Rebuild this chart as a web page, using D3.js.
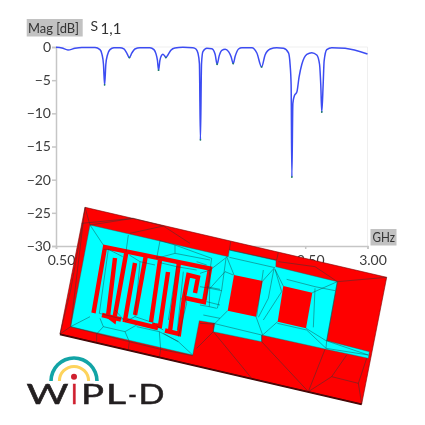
<!DOCTYPE html>
<html><head><meta charset="utf-8">
<script src="https://cdn.jsdelivr.net/npm/d3@7"></script>
<style>html,body{margin:0;padding:0;background:#fff}svg{display:block;filter:blur(0.35px)}text{font-family:Lato,"Open Sans",sans-serif}</style>
</head><body><svg id="c" width="425" height="425"></svg>
<script>
// ---- chart data
const freqGHz = [0.5,0.548,0.596,0.652,0.708,0.813,0.853,0.869,0.881,0.89,0.9,0.913,0.933,0.965,1.013,1.045,1.065,1.089,1.109,1.133,1.174,1.254,1.286,1.302,1.314,1.323,1.334,1.346,1.358,1.374,1.382,1.398,1.422,1.454,1.518,1.599,1.623,1.639,1.651,1.659,1.668,1.679,1.711,1.751,1.777,1.793,1.81,1.831,1.858,1.885,1.906,1.922,1.938,1.965,1.992,2.072,2.112,2.15,2.178,2.219,2.272,2.326,2.366,2.379,2.387,2.393,2.401,2.414,2.433,2.451,2.473,2.513,2.553,2.593,2.615,2.625,2.633,2.644,2.652,2.673,2.713,2.82,3.0];
const s11dB = [-0.05,-0.15,-0.45,-0.2,-0.08,-0.08,-0.4,-1.1,-2.6,-5.7,-2.6,-1.2,-0.4,-0.12,-0.1,-0.3,-0.8,-1.6,-0.9,-0.3,-0.1,-0.1,-0.4,-1.0,-2,-3.5,-2,-1.3,-1.1,-1.4,-1.6,-1.2,-0.5,-0.15,-0.05,-0.1,-0.3,-0.9,-2.5,-14,-2.5,-0.7,-0.2,-0.25,-1.1,-2.6,-1.3,-0.5,-0.35,-0.7,-1.5,-2.5,-1.4,-0.3,-0.1,-0.1,-0.9,-3,-1.2,-0.3,-0.1,-0.2,-0.9,-2.7,-5.7,-19.6,-8.5,-7.3,-6.8,-4.5,-2.6,-1.1,-0.85,-1.2,-2.6,-5.7,-9.8,-5.7,-2.1,-0.4,-0.1,-0.2,-1.05];
const dipGHz = [0.89,1.089,1.323,1.382,1.659,1.793,1.922,2.15,2.393,2.633];
const dipDB = [-5.7,-1.6,-3.5,-1.6,-14,-2.6,-2.5,-3,-19.6,-9.8];
const yTicks = [0,-5,-10,-15,-20,-25,-30];
const xTicks = [0.5,1,1.5,2,2.5,3];

// ---- model outline (picture coordinates)
const boardOutline = [[85,207.3],[386.7,277.3],[361.7,404],[60,334]];
const copperOutline = [[90,225],[228.3,256.7],[229.3,250],[276,260.5],[275.8,266.7],[337.3,281.7],[326.7,340.7],[369.3,351.7],[368.3,358.3],[325,349],[261.7,335],[261.7,341.7],[213.3,331.7],[215,323.3],[199.3,320.7],[192.7,355],[70.7,326.7]];
const slots = [
 [[234,275],[262.7,281],[256,316.7],[227.7,310.7]],
 [[283.3,286],[312.3,292.7],[306,328.3],[277.7,321.7]]
];
const meander = [
 [[93.5,313],[105,247],[210,268.5],[204,302],[184,297.7],[188.3,275],[198,277.3],[195,293]],
 [[115,258],[108,316],[114,320.5],[126.5,251.5]],
 [[102,315],[121,319.5]],
 [[135,263],[125,320],[158,328]],
 [[146,255],[135,315]],
 [[160,260],[151,322]],
 [[168,272],[160,326],[152,325]],
 [[179,262],[170,331]],
 [[165,330.5],[179,334],[184,297.7]]
];
const meshA = [ // crop at (40,190), 3x
 [[135,52],[92,410]],[[128,100],[92,300],[60,432]],[[60,432],[92,410]],[[135,52],[150,105]],
 [[125,100],[280,85],[150,105]],[[270,130],[370,108],[450,160]],[[280,85],[370,108]],
 [[150,105],[190,165]],[[92,410],[150,380]],[[265,135],[258,185]],[[360,152],[350,205]],
 [[180,385],[190,410],[170,432],[170,458]],[[190,410],[255,425],[268,455],[265,478]],
 [[255,425],[290,405]],[[290,410],[358,425],[362,478],[358,502]],[[370,430],[415,455],[458,495]],
 [[92,410],[175,432],[268,455],[362,478],[458,497]],[[358,425],[415,455]],
 [[360,152],[405,165],[515,205]],[[405,165],[405,190],[510,210]],[[350,205],[405,190]],
 [[415,440],[440,340],[432,305]],[[500,335],[540,345]],[[490,375],[540,385]],[[500,290],[540,298]],
 [[190,178],[205,178],[178,370],[250,388],[225,360]],[[205,178],[248,200]],[[268,195],[300,215],[285,380],[345,400]],
 [[300,215],[345,225]],[[360,218],[410,230],[385,390]],[[410,230],[470,240]],[[430,245],[412,420]],
 [[255,395],[285,380]],[[350,408],[370,420]],[[470,215],[500,225]],[[515,205],[498,330]]
];
const meshB = [ // crop at (200,220), 3x
 [[92,65],[88,90],[230,120],[235,97]],[[88,112],[225,143]],[[235,125],[345,140],[412,185],[560,172]],
 [[80,110],[102,165]],[[222,145],[188,183]],[[83,272],[45,310]],[[168,290],[188,345]],[[225,148],[250,198]],
 [[337,218],[412,185]],[[233,305],[188,345]],[[318,325],[378,362]],[[260,178],[345,200],[405,212]],
 [[345,205],[340,322]],[[40,310],[185,345]],[[232,310],[320,330],[378,385],[505,405]],[[378,362],[505,405]],
 [[185,365],[325,515],[375,388]],[[40,335],[155,475]],[[40,335],[-10,385]],[[325,515],[395,470],[440,405]],
 [[395,470],[475,490],[485,552]],[[475,490],[500,415]],[[185,345],[185,365]],[[40,310],[40,335]],
 [[190,150],[170,290]],[[222,145],[205,235],[175,292]],[[225,148],[245,215],[190,300]],
 [[0,200],[30,205],[65,212]],[[0,255],[28,260],[50,265]],[[30,150],[28,260]],[[78,115],[65,210],[52,265]],
 [[75,155],[30,205]],[[100,165],[75,155]],[[0,160],[30,150],[82,110]],[[380,362],[378,385]],
 [[412,185],[380,362]],[[0,310],[40,312]]
];
// ---- logo
const logoArcs = [{r:23,w:3.6,c:"#12a4a6"},{r:14.6,w:3,c:"#fdd35c"}];
const logoLetters = ["W","I","P","L","-","D"];
const logoLetterLeft = [26.5,71,81,106,128,138.5];
const logoLetterWidth = [42,6.5,23,20,9,26];

const svg = d3.select("#c");
const x = d3.scaleLinear().domain([0.5,3]).range([56,367.5]);
const y = d3.scaleLinear().domain([0,-30]).range([47,246]);

// frame
svg.append("path").attr("d",`M${x(0.5)},${y(0)}H${x(3)}V${y(-30)}`).attr("fill","none").attr("stroke","#efefef").attr("stroke-width",1);

const gy = svg.append("g").attr("transform",`translate(${x(0.5)},0)`).call(d3.axisLeft(y).tickValues(yTicks).tickFormat(d3.format("d")).tickSize(4).tickPadding(1));
const gx = svg.append("g").attr("transform",`translate(0,${y(-30)})`).call(d3.axisBottom(x).tickValues(xTicks).tickFormat(d3.format(".2f")).tickSize(3).tickPadding(6));
[gy,gx].forEach(g=>{
  g.selectAll("path,line").attr("stroke","#c6c6c6").attr("stroke-width",1.5);
  g.selectAll("text").attr("fill","#3c3c3c").style("font-size","14px").style("font-family",'Lato,"Open Sans",sans-serif');
});
gx.selectAll("text").attr("dx",5);

// title boxes
svg.append("rect").attr("x",26.7).attr("y",19).attr("width",56).attr("height",17.5).attr("fill","#c2c2c2");
svg.append("text").attr("x",28).attr("y",32.5).attr("fill","#333").style("font-size","14px").attr("textLength",51).attr("lengthAdjust","spacingAndGlyphs").text("Mag [dB]");
const s = svg.append("text").attr("x",90.5).attr("y",31).attr("fill","#333").style("font-size","14px");
s.append("tspan").text("S");
s.append("tspan").attr("dx",2.5).attr("dy",2.5).style("font-size","15px").text("1,1");
svg.append("rect").attr("x",370.5).attr("y",229).attr("width",26).attr("height",16.5).attr("fill","#c2c2c2");
svg.append("text").attr("x",372.5).attr("y",242).attr("fill","#333").style("font-size","14px").attr("textLength",22.5).attr("lengthAdjust","spacingAndGlyphs").text("GHz");

// curve
const line = d3.line().curve(d3.curveMonotoneX).x(d=>x(d[0])).y(d=>y(d[1]));
svg.append("path").datum(d3.zip(freqGHz,s11dB)).attr("d",line).attr("fill","none").attr("stroke","#3c4cf2").attr("stroke-width",1.5).attr("stroke-linejoin","round");
svg.append("g").selectAll("circle").data(d3.zip(dipGHz,dipDB)).join("circle").attr("cx",d=>x(d[0])).attr("cy",d=>y(d[1])).attr("r",0.9).attr("fill","#1f7f6a");

// model
const poly = d3.line().curve(d3.curveLinearClosed);
const open = d3.line();
const m = svg.append("g");
m.append("path").attr("d",open([[60,334],[361.7,404]])).attr("stroke","#3a0505").attr("stroke-width",2.4).attr("fill","none");
m.append("path").attr("d",poly(boardOutline)).attr("fill","#fe0000");
m.append("path").attr("d",poly(copperOutline)).attr("fill","#00ffff").attr("stroke","#0b6f6f").attr("stroke-width",0.4);
m.selectAll("path.slot").data(slots).join("path").attr("class","slot").attr("d",poly).attr("fill","#fe0000");
m.selectAll("path.tr").data(meander).join("path").attr("class","tr").attr("d",open).attr("fill","none").attr("stroke","#fe0000").attr("stroke-width",4.4).attr("stroke-linejoin","miter").attr("stroke-linecap","butt");
const fromA = p=>[40+p[0]/3,190+p[1]/3], fromB = p=>[200+p[0]/3,220+p[1]/3];
const meshRed = [...meshA.map(l=>l.map(fromA)),...meshB.map(l=>l.map(fromB))];
m.selectAll("path.mesh").data(meshRed).join("path").attr("class","mesh").attr("d",open).attr("fill","none").attr("stroke","#1c3c3c").attr("stroke-width",0.45);
m.append("path").attr("d",poly(boardOutline)).attr("fill","none").attr("stroke","#7a0505").attr("stroke-width",0.6);
m.append("path").attr("d",open([[60,334],[361.7,404]])).attr("stroke","#4a0808").attr("stroke-width",1.2).attr("fill","none");

// logo
const logo = svg.append("g");
const arc = d3.arc().startAngle(-Math.PI/2).endAngle(Math.PI/2);
logo.selectAll("path").data(logoArcs).join("path").attr("transform","translate(74,381)")
  .attr("d",d=>arc({innerRadius:d.r-d.w/2,outerRadius:d.r+d.w/2})).attr("fill",d=>d.c);
logo.append("circle").attr("cx",74).attr("cy",376.7).attr("r",3).attr("fill","#cf1f2e");
logo.selectAll("text").data(logoLetters).join("text")
  .attr("x",(d,i)=>logoLetterLeft[i]).attr("y",403.5)
  .attr("textLength",(d,i)=>logoLetterWidth[i]).attr("lengthAdjust","spacingAndGlyphs")
  .attr("fill",(d,i)=>i===1?"#cf1f2e":"#231f20").attr("stroke",(d,i)=>i===1?"#cf1f2e":"#231f20").attr("stroke-width",0.5)
  .style("font-size","27px").text(d=>d);
</script></body></html>
